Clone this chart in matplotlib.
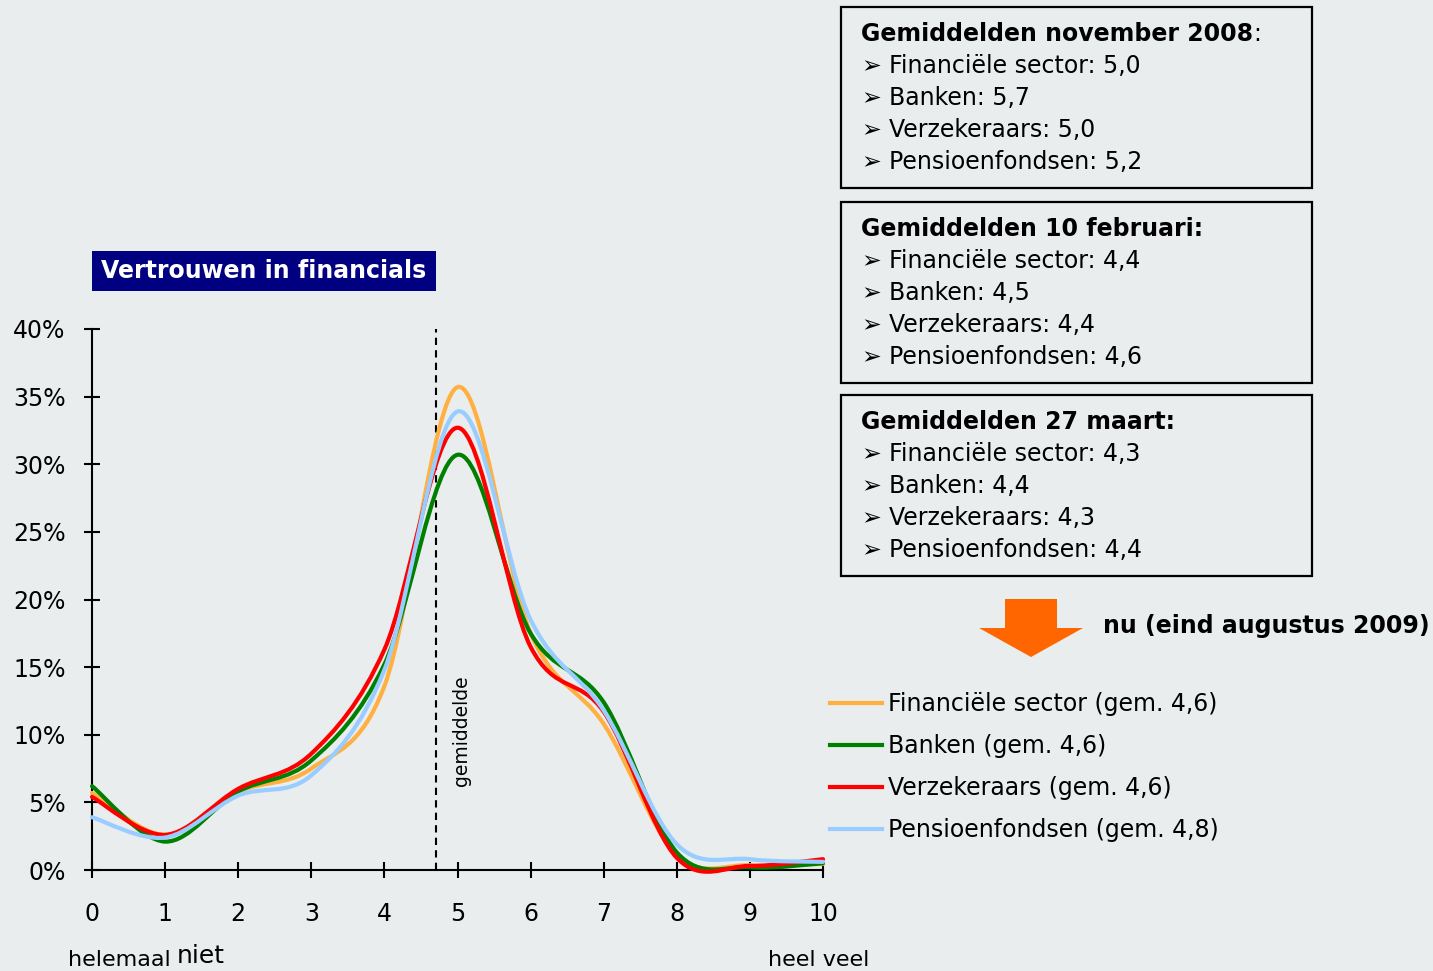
import matplotlib
matplotlib.use("Agg")
import matplotlib.pyplot as plt
from matplotlib.path import Path
from matplotlib.patches import PathPatch, Rectangle, Polygon
from matplotlib.lines import Line2D

# ---------------- data ----------------
scores = [0, 1, 2, 3, 4, 5, 6, 7, 8, 9, 10]
fin_sector = [5.7, 2.6, 5.8, 7.5, 13.6, 35.7, 17.5, 10.8, 1.1, 0.35, 0.45]
banken = [6.2, 2.1, 5.8, 8.1, 15.2, 30.7, 17.5, 12.4, 1.3, 0.2, 0.5]
verzekeraars = [5.4, 2.6, 6.0, 8.6, 16.3, 32.7, 16.5, 11.7, 0.9, 0.3, 0.8]
pensioenfondsen = [3.9, 2.4, 5.5, 7.0, 14.8, 33.9, 18.5, 11.8, 1.9, 0.8, 0.6]

series_labels = ["Financiële sector (gem. 4,6)", "Banken (gem. 4,6)",
                 "Verzekeraars (gem. 4,6)", "Pensioenfondsen (gem. 4,8)"]
series_colors = ["#FFB040", "#008000", "#FF0000", "#99CCFF"]
mean_line = 4.7
yticks = [0, 5, 10, 15, 20, 25, 30, 35, 40]
ytick_labels = ["0%", "5%", "10%", "15%", "20%", "25%", "30%", "35%", "40%"]

boxes = [
    ("Gemiddelden november 2008", False,
     ["Financiële sector: 5,0", "Banken: 5,7", "Verzekeraars: 5,0", "Pensioenfondsen: 5,2"]),
    ("Gemiddelden 10 februari", True,
     ["Financiële sector: 4,4", "Banken: 4,5", "Verzekeraars: 4,4", "Pensioenfondsen: 4,6"]),
    ("Gemiddelden 27 maart", True,
     ["Financiële sector: 4,3", "Banken: 4,4", "Verzekeraars: 4,3", "Pensioenfondsen: 4,4"]),
]

# ---------------- figure ----------------
W, H = 1433, 971
BG = "#E9EDEE"
FS = 17
plt.rcParams['font.family'] = ['DejaVu Sans']
fig = plt.figure(figsize=(W / 100, H / 100), dpi=100, facecolor=BG)


def fx(px):
    return px / W


def fy(py):
    return 1 - py / H


ax = fig.add_axes([fx(92), fy(870), (823 - 92) / W, (870 - 329) / H])
ax.set_facecolor(BG)
ax.set_xlim(0, 10)
ax.set_ylim(0, 40)
for s in ("top", "right"):
    ax.spines[s].set_visible(False)
for s in ("left", "bottom"):
    ax.spines[s].set_linewidth(1.5)
ax.set_xticks(scores)
ax.set_xticklabels([str(s) for s in scores], fontsize=FS)
ax.set_yticks(yticks)
ax.set_yticklabels(ytick_labels, fontsize=FS)
ax.tick_params(axis="both", direction="inout", length=12, width=1.5)
ax.tick_params(axis="x", pad=17)
ax.tick_params(axis="y", pad=13)


def smooth_path(xs, ys):
    # Excel-style smoothed line: cubic Bezier segments through the data points
    n = len(xs)
    verts = [(xs[0], ys[0])]
    codes = [Path.MOVETO]
    for i in range(n - 1):
        p0 = (xs[i - 1], ys[i - 1]) if i > 0 else (xs[i], ys[i])
        p1 = (xs[i], ys[i])
        p2 = (xs[i + 1], ys[i + 1])
        p3 = (xs[i + 2], ys[i + 2]) if i + 2 < n else p2
        c1 = (p1[0] + (p2[0] - p0[0]) / 6, p1[1] + (p2[1] - p0[1]) / 6)
        c2 = (p2[0] - (p3[0] - p1[0]) / 6, p2[1] - (p3[1] - p1[1]) / 6)
        verts += [c1, c2, p2]
        codes += [Path.CURVE4] * 3
    return Path(verts, codes)


all_series = [fin_sector, banken, verzekeraars, pensioenfondsen]
draw_order = [3, 0, 1, 2]
for k in draw_order:
    patch = PathPatch(smooth_path(scores, all_series[k]), fill=False,
                      edgecolor=series_colors[k], lw=3, transform=ax.transData,
                      clip_on=False, zorder=3 + k, capstyle="round", joinstyle="round")
    ax.add_patch(patch)

ax.axvline(mean_line, ymin=0, ymax=1.0, color="black", lw=1.5,
           linestyle=(0, (3.5, 2.5)), zorder=2)
ax.text(5.06, 10.3, "gemiddelde", rotation=90, ha="center", va="center", fontsize=13.5)

# legend
handles = [Line2D([], [], color=c, lw=3) for c in series_colors]
fig.legend(handles, series_labels, loc="upper left",
           bbox_to_anchor=(fx(830), fy(692)), bbox_transform=fig.transFigure,
           frameon=False, fontsize=FS, handlelength=2.2, handletextpad=0.25,
           labelspacing=0.76, borderpad=0, borderaxespad=0)

# axis end labels
fig.text(fx(68), fy(960), "helemaal", fontsize=16, ha="left", va="center")
fig.text(fx(177), fy(956), "niet", fontsize=18, ha="left", va="center")
fig.text(fx(768), fy(960), "heel veel", fontsize=16, ha="left", va="center")

# title box
fig.add_artist(Rectangle((fx(92), fy(291)), (436 - 92) / W, (291 - 251) / H,
                         transform=fig.transFigure, facecolor="#000080", edgecolor="none"))
fig.text(fx(264), fy(271), "Vertrouwen in financials", color="white",
         fontsize=FS, fontweight="bold", ha="center", va="center")

# info boxes
box_tops = [7, 202, 395]
for (header, colon_bold, lines), top in zip(boxes, box_tops):
    fig.add_artist(Rectangle((fx(841), fy(top + 181)), (1312 - 841) / W, 181 / H,
                             transform=fig.transFigure, facecolor="none",
                             edgecolor="black", lw=1.6))
    hdr = fig.text(fx(861), fy(top + 27), header + (":" if colon_bold else ""),
                   fontsize=FS, fontweight="bold", ha="left", va="center")
    if not colon_bold:
        ax.annotate(":", xy=(1, 0), xycoords=hdr, fontsize=FS,
                    ha="left", va="bottom", annotation_clip=False)
    for j, line in enumerate(lines):
        yy = top + 59 + 32 * j
        fig.text(fx(861), fy(yy), "➢", fontsize=17, ha="left", va="center")
        fig.text(fx(889), fy(yy), line, fontsize=FS, ha="left", va="center")

# arrow
arrow_pts = [(1005, 599), (1057, 599), (1057, 628), (1083, 628), (1031, 657),
             (979, 628), (1005, 628)]
fig.add_artist(Polygon([(fx(px), fy(py)) for px, py in arrow_pts], closed=True,
                       transform=fig.transFigure, facecolor="#FF6600", edgecolor="none"))
fig.text(fx(1103), fy(626), "nu (eind augustus 2009)", fontsize=FS,
         fontweight="bold", ha="left", va="center")

fig.savefig("out.png", dpi=100, facecolor=BG)
